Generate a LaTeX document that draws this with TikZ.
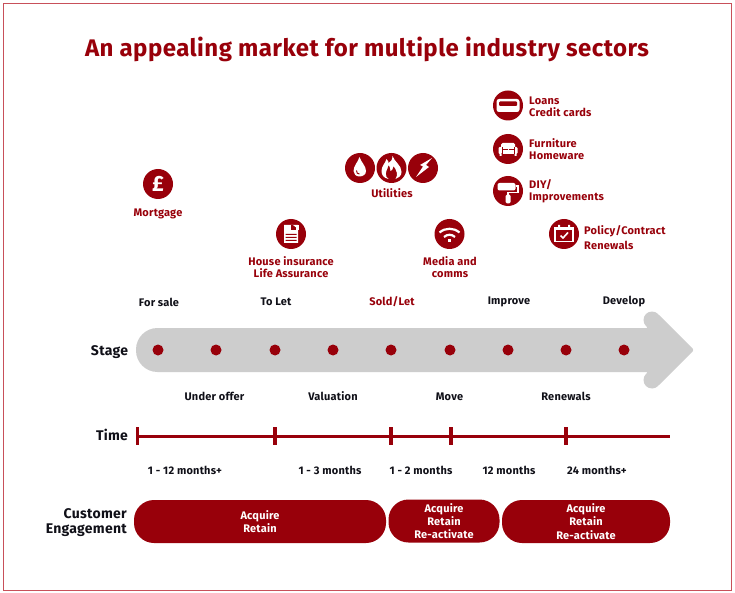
\documentclass[tikz,border=0pt]{standalone}
\usepackage{fontspec}
\setmainfont{Fira Sans}
\newfontfamily\lab[LetterSpace=2]{Fira Sans}
\newfontfamily\axisf[LetterSpace=2]{Fira Sans}
\newfontfamily\titlef[LetterSpace=1.9]{Fira Sans}
\definecolor{brandred}{HTML}{98000A}
\definecolor{arrowgrey}{HTML}{CDCDCD}
\definecolor{framered}{HTML}{C8505A}
\definecolor{ink}{HTML}{101018}
\begin{document}
\begin{tikzpicture}[x=1pt,y=-1pt,
 lab/.style={font=\lab\fontsize{11}{12}\selectfont\bfseries,text=ink,align=center,inner sep=0pt},
 redt/.style={font=\lab\fontsize{11}{12}\selectfont\bfseries,text=brandred,align=center,inner sep=0pt},
 redl/.style={redt,align=left,anchor=west},
 axis/.style={font=\axisf\fontsize{14}{14.5}\selectfont\bfseries,text=ink,align=right,inner sep=0pt},
 icon/.style={circle,fill=brandred,minimum size=30pt,inner sep=0pt,text=white},
 dotn/.style={circle,fill=brandred,minimum size=11pt,inner sep=0pt},
 tick/.style={draw=brandred,line width=3.4pt},
 pill/.style={fill=brandred,rounded corners=20pt,text=white,font=\lab\fontsize{11}{13.3}\selectfont\bfseries,align=center,inner sep=0pt}]
\useasboundingbox (0,0) rectangle (735,593);
\fill[white] (0,0) rectangle (735,593);
\draw[framered,line width=.8pt] (3,3) rectangle (731,590);
\node[font=\titlef\fontsize{24}{27}\selectfont\bfseries,text=brandred,inner sep=0pt] (title) at (367,49) {An appealing market for multiple industry sectors};
% stage arrow
\fill[arrowgrey,rounded corners=21.5pt] (136,328) rectangle (680,372);
\fill[arrowgrey,rounded corners=2pt] (658,314) -- (694,350) -- (658,386) -- (646,374) -- (648,372) -- (648,328) -- (646,326) -- cycle;
\fill[arrowgrey] (652,320) circle[radius=8.5] (652,380) circle[radius=8.5];
\foreach \n/\x in {1/158,2/216,3/275,4/333,5/391,6/450,7/508,8/566,9/624}{\node[dotn] (d\n) at (\x,350) {};}
\node[axis] (stage) at (109.5,352) {Stage};
\node[axis] (timel) at (112,435) {Time};
\node[axis,anchor=east] (ce) at (127,522.5) {Customer\\Engagement};
\foreach \n/\x/\t in {a/159/For sale,b/276/To Let,d/509/Improve,e/624/Develop}{\node[lab] (\n) at (\x,302) {\t};}
\node[redt] (c) at (392,302) {Sold/Let};
\foreach \n/\x/\y/\t in {f/214.5/396/Under offer,g/333/396/Valuation,h/449.5/396.5/Move,i/566/396/Renewals}{\node[lab] (\n) at (\x,\y) {\t};}
\coordinate (t0) at (137,436); \coordinate (t1) at (670,436);
\draw[brandred,draw=brandred,line width=3pt] (t0) -- (t1);
\foreach \x in {137.5,275,391,451,566}{\draw[tick] (\x,427) -- (\x,445);}
\foreach \n/\x/\t in {j/185/1 - 12 months+,k/330/1 - 3 months,l/421/1 - 2 months,m/509/12 months,n/597/24 months+}{\node[lab] (\n) at (\x,470) {\t};}
\node[pill,minimum width=252pt,minimum height=43pt] (p1) at (260,521.5) {Acquire\\Retain};
\node[pill,minimum width=111pt,minimum height=43pt] (p2) at (444,521) {Acquire\\Retain\\Re-activate};
\node[pill,minimum width=168pt,minimum height=43pt] (p3) at (586,521.5) {Acquire\\Retain\\Re-activate};
% mortgage
\node[icon,font=\fontsize{22}{22}\selectfont\bfseries] (i1) at (158,184) {£};
\node[redt] (t1l) at (158,214) {Mortgage};
% document
\node[icon] (i2) at (291,234) {};
\begin{scope}[shift={(i2.center)}]
 \fill[white] (-7,-9) -- (2,-9) -- (7,-5) -- (7,9) -- (-7,9) -- cycle;
 \fill[brandred] (0,-9) rectangle (6,-4);
 \fill[white] (2,-9) -- (7,-5) -- (7,-9) -- cycle;
 \fill[white] (5,-9) rectangle (8,-4);
 \fill[brandred] (-5.5,0) rectangle (5.5,.9) (-5.5,3) rectangle (5.5,3.9) (-5.5,6) rectangle (5.5,6.9);
\end{scope}
\node[redt] (t2l) at (291,267.5) {House insurance\\Life Assurance};
% utilities
\node[icon] (i3) at (360,168) {}; \node[icon] (i4) at (391.5,168) {}; \node[icon] (i5) at (423,168) {};
\begin{scope}[shift={(i3.center)}]
 \fill[white] (-.5,-11) .. controls (1,-6) and (6,-2) .. (6,3) .. controls (6,6.5) and (3,8.5) .. (-.5,8.5) .. controls (-4,8.5) and (-6.5,6) .. (-6.5,3) .. controls (-6.5,-2) and (-2,-6) .. (-.5,-11) -- cycle;
 \draw[brandred,line width=.9pt] (-3.5,2.5) .. controls (-4,5) and (-2,6) .. (-.5,6);
\end{scope}
\begin{scope}[shift={(i4.center)}]
 \fill[white] (1,-12) .. controls (3,-6) and (10,-3) .. (10,4) .. controls (10,8) and (7,10) .. (4,11) .. controls (7,7) and (5,2) .. (2,-2) .. controls (2,1) and (0,3) .. (-1,3) .. controls (-1,0) and (-2,-2) .. (-3,-3) .. controls (-4,2) and (-7,4) .. (-5,9) -- (-3,11) .. controls (-8,10) and (-10,7) .. (-10,3) .. controls (-10,-2) and (-6,-5) .. (-5,-9) .. controls (-3,-7) and (-3,-6) .. (-3,-5) .. controls (-1,-6) and (1,-8) .. (1,-12) -- cycle;
\end{scope}
\begin{scope}[shift={(i5.center)}]
 \fill[white] (9,-10) -- (-3,-3) -- (0,-1.5) -- (-7,9) -- (6,-1) -- (3,-3) -- cycle;
\end{scope}
\node[redt] (t3l) at (392,193) {Utilities};
% wifi
\node[icon] (i6) at (449.5,234) {};
\begin{scope}[shift={(i6.center)}]
 \draw[white,line width=2.2pt] (-10,-1.5) .. controls (-4,-6.5) and (4,-6.5) .. (10,-1.5);
 \draw[white,line width=2.2pt] (-5.5,3) .. controls (-2,0) and (2,0) .. (5.5,3);
 \fill[white] (-1.5,5.5) rectangle (1.5,8);
\end{scope}
\node[redt] (t6l) at (450,267) {Media and\\comms};
% card
\node[icon] (i7) at (508,105.5) {};
\begin{scope}[shift={(i7.center)}]
 \fill[white,rounded corners=2.5pt] (-11.5,-6.5) rectangle (11.5,6.5);
 \fill[brandred,rounded corners=1pt] (-9,-4) rectangle (9,.5);
\end{scope}
\node[redl] (t7l) at (529,106.5) {Loans\\Credit cards};
% sofa
\node[icon] (i8) at (508,149) {};
\begin{scope}[shift={(i8.center)}]
 \fill[white,rounded corners=1.5pt] (-7,-6) rectangle (7,1);
 \fill[white,rounded corners=1.2pt] (-9.5,-2) rectangle (-6,5) (6,-2) rectangle (9.5,5);
 \fill[white] (-6.5,1) rectangle (6.5,5);
 \fill[white] (-8.5,5) rectangle (-6.5,7) (6.5,5) rectangle (8.5,7);
 \draw[brandred,line width=.8pt] (-5.5,.8) -- (-.5,.8) (.5,.8) -- (5.5,.8) (-6,-2) -- (-6,5) (6,-2) -- (6,5);
\end{scope}
\node[redl] (t8l) at (529,149.5) {Furniture\\Homeware};
% roller
\node[icon] (i9) at (508,191) {};
\begin{scope}[shift={(i9.center)}]
 \fill[white,rounded corners=2pt] (-10.5,-8) rectangle (7.5,-.5);
 \draw[white,line width=1.2pt] (7.5,-5) -- (10,-5) -- (10,1.5) -- (0,1.5) -- (0,4);
 \fill[white,rounded corners=1.5pt] (-2.5,3.5) rectangle (2.5,12.5);
\end{scope}
\node[redl] (t9l) at (529,191) {DIY/\\Improvements};
% calendar
\node[icon] (i10) at (564,234) {};
\begin{scope}[shift={(i10.center)}]
 \draw[white,line width=1.5pt] (-9,-6.5) rectangle (9,7.5);
 \fill[white] (-9,-6.5) rectangle (9,-3.5);
 \fill[white] (-6,-9) rectangle (-4,-5) (4,-9) rectangle (6,-5);
 \draw[white,line width=1.6pt] (-3.5,1.5) -- (-1,4) -- (4,-1.5);
\end{scope}
\node[redl] (t10l) at (584,238) {Policy/Contract\\[3pt]Renewals};
\end{tikzpicture}
\end{document}
